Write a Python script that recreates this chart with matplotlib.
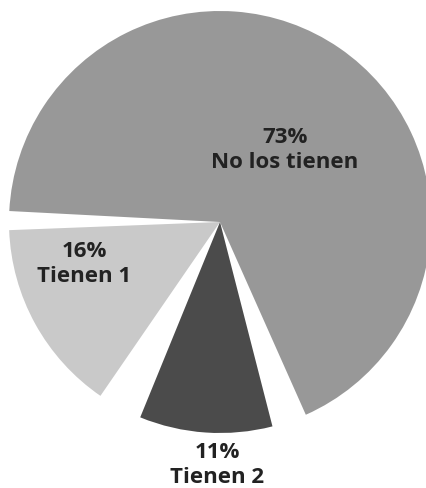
import numpy as np
import matplotlib
matplotlib.use("Agg")
import matplotlib.pyplot as plt

# Data
categories = ["No los tienen", "Tienen 1", "Tienen 2"]
values = [73, 16, 11]
pct_labels = ["73%", "16%", "11%"]

# Style
colors = ["#989898", "#c9c9c9", "#4b4b4b"]
gaps_after = [5.2, 12.3, 9.6]       # white angular gaps (degrees) after each slice
start_angle = 294.0
# label block centres in pixel coords (x from left, y from top)
label_pos = [(285, 150), (84, 264), (217, 465)]

W, H = 427, 488
fig = plt.figure(figsize=(W / 100, H / 100), dpi=100)
ax = fig.add_axes([0, 0, 1, 1])
cx, cy, R = 220, H - 222, 211

wedges, _ = ax.pie(values, colors=colors, radius=R, center=(cx, cy),
                   startangle=start_angle, counterclock=True,
                   wedgeprops=dict(linewidth=0))

avail = 360 - sum(gaps_after)
total = float(sum(values))
theta = start_angle
for w, v, g in zip(wedges, values, gaps_after):
    span = v / total * avail
    w.set_theta1(theta)
    w.set_theta2(theta + span)
    theta += span + g

for cat, pct, (px, py) in zip(categories, pct_labels, label_pos):
    ax.text(px, H - py, f"{pct}\n{cat}", ha="center", va="center", fontsize=16,
            fontfamily="Open Sans", fontweight="bold", color="#222222",
            linespacing=1.2)

ax.set_xlim(0, W)
ax.set_ylim(0, H)
ax.set_aspect("equal")
ax.axis("off")
fig.savefig("out.png", dpi=100)
